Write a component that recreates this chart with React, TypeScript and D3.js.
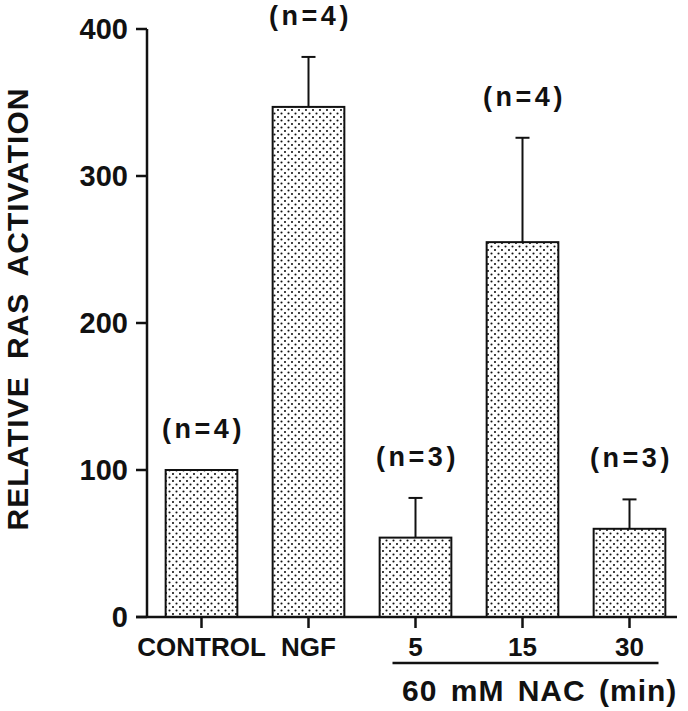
import React from "react";
import * as d3 from "d3";

const width = 688;
const height = 711;

const categories = ["CONTROL", "NGF", "5", "15", "30"];
const values = [100, 347, 54, 255, 60];
const errors = [0, 34, 27, 71, 20];
const counts = ["(n=4)", "(n=4)", "(n=3)", "(n=4)", "(n=3)"];
const yTicks = [0, 100, 200, 300, 400];

const font = "'Liberation Sans', Arial, Helvetica, sans-serif";

export default function App() {
  const y = d3.scaleLinear().domain([0, 400]).range([617, 29]);
  const x = d3
    .scaleBand<string>()
    .domain(categories)
    .range([148, 683])
    .paddingInner(0.33)
    .paddingOuter(0.165);

  const bw = x.bandwidth();
  const axisX = 147;
  const axisY = y(0);

  // the NAC group spans the last three categories
  const nacStart = (x("5") as number) + bw / 2 - 23;
  const nacEnd = (x("30") as number) + bw / 2 + 29;

  return (
    <svg
      width={width}
      height={height}
      style={{ position: "absolute", left: 0, top: 0, background: "#fff" }}
    >
      <defs>
        <pattern id="dots" width={7} height={7} patternUnits="userSpaceOnUse">
          <rect width={7} height={7} fill="#fff" />
          <circle cx={1.5} cy={1.5} r={1.05} fill="#111" />
          <circle cx={5} cy={5} r={1.05} fill="#111" />
        </pattern>
      </defs>

      {/* bars */}
      {categories.map((c, i) => (
        <rect
          key={c}
          x={x(c)}
          y={y(values[i])}
          width={bw}
          height={axisY - y(values[i])}
          fill="url(#dots)"
          stroke="#111"
          strokeWidth={2}
        />
      ))}

      {/* error bars */}
      {categories.map((c, i) => {
        if (!errors[i]) return null;
        const cx = (x(c) as number) + bw / 2;
        const top = y(values[i] + errors[i]);
        return (
          <g key={"e" + c} stroke="#111" strokeWidth={2}>
            <line x1={cx} x2={cx} y1={y(values[i])} y2={top} />
            <line x1={cx - 7} x2={cx + 7} y1={top} y2={top} />
          </g>
        );
      })}

      {/* n labels */}
      {categories.map((c, i) => (
        <text
          key={"n" + c}
          x={(x(c) as number) + bw / 2 + 2}
          y={y(values[i] + errors[i]) - 32}
          textAnchor="middle"
          fontFamily={font}
          fontWeight="bold"
          fontSize={27}
          letterSpacing={3.5}
          fill="#111"
        >
          {counts[i]}
        </text>
      ))}

      {/* y axis */}
      <line x1={axisX} x2={axisX} y1={y(400)} y2={axisY} stroke="#111" strokeWidth={2.5} />
      {yTicks.map((t) => (
        <g key={t}>
          <line x1={axisX - 11} x2={axisX} y1={y(t)} y2={y(t)} stroke="#111" strokeWidth={2.5} />
          <text
            x={axisX - 19}
            y={y(t) + 10}
            textAnchor="end"
            fontFamily={font}
            fontWeight="bold"
            fontSize={29}
            fill="#111"
          >
            {t}
          </text>
        </g>
      ))}

      {/* x axis */}
      <line x1={axisX - 11} x2={677} y1={axisY} y2={axisY} stroke="#111" strokeWidth={2.5} />
      {categories.map((c) => {
        const cx = (x(c) as number) + bw / 2;
        return (
          <g key={"t" + c}>
            <line x1={cx} x2={cx} y1={axisY} y2={axisY + 11} stroke="#111" strokeWidth={2.5} />
            <text
              x={cx}
              y={656}
              textAnchor="middle"
              fontFamily={font}
              fontWeight="bold"
              fontSize={26}
              fill="#111"
            >
              {c}
            </text>
          </g>
        );
      })}

      {/* NAC group label */}
      <line x1={nacStart} x2={nacEnd} y1={663} y2={663} stroke="#111" strokeWidth={2.5} />
      <text
        x={402}
        y={701}
        fontFamily={font}
        fontWeight="bold"
        fontSize={30}
        letterSpacing={1}
        wordSpacing={4}
        fill="#111"
      >
        60 mM NAC (min)
      </text>

      {/* y title */}
      <text
        transform="translate(28,309) rotate(-90)"
        textAnchor="middle"
        fontFamily={font}
        fontWeight="bold"
        fontSize={30}
        letterSpacing={1}
        wordSpacing={8}
        fill="#111"
      >
        RELATIVE RAS ACTIVATION
      </text>
    </svg>
  );
}
